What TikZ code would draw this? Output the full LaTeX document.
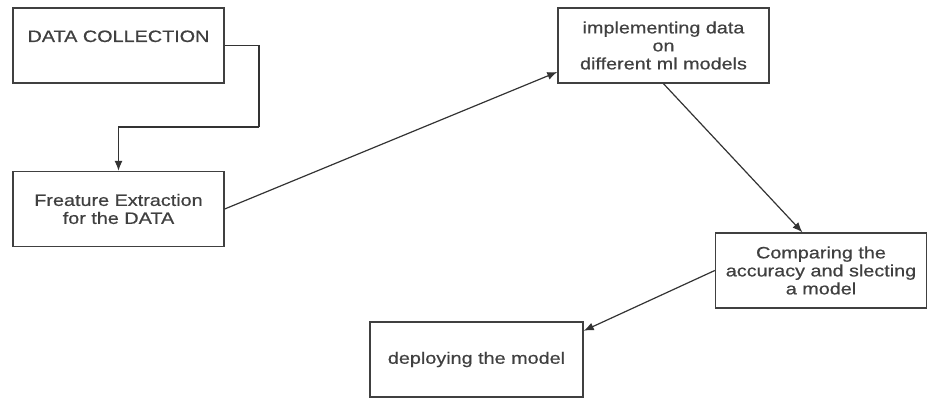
\documentclass[tikz,border=0pt]{standalone}
\usepackage{fontspec}
\setmainfont[FakeStretch=1.2,FakeBold=0.6]{Liberation Sans}
\usetikzlibrary{arrows.meta}

\begin{document}
\begin{tikzpicture}[x=1pt, y=-1pt,
    stagebox/.style={draw=black!75, line width=1.4pt, rectangle, inner sep=0pt,
        minimum width=211pt, minimum height=75pt, align=center,
        font=\fontsize{16.5}{18}\selectfont, text=black!75},
    flow/.style={draw=black!80, line width=1.2pt, -{Latex[length=10pt,width=8pt]}}]
    % Frame of the picture
    \useasboundingbox (0,0) rectangle (927,398);

    % Stages
    \node[stagebox, text height=34pt, text depth=41pt] (collect) at (118.5,45.5) {DATA COLLECTION};
    \node[stagebox] (feature) at (118.5,209) {Freature Extraction\\for the DATA};
    \node[stagebox] (implement) at (663.5,45.5) {implementing data\\on\\different ml models};
    \node[stagebox] (compare) at (821,270.5) {Comparing the\\accuracy and slecting\\a model};
    \node[stagebox, minimum width=213pt] (deploy) at (476.5,359.5) {deploying the model};

    % Elbow of the first connector
    \coordinate (bend) at (259,127);

    % Connectors
    \draw[flow, -] (collect.east) -| (bend);
    \draw[flow] (bend) -| (feature.north);
    \draw[flow] (feature.east) -- (implement.194);
    \draw[flow] (implement.south) -- (compare.116);
    \draw[flow] (compare.west) -- (deploy.15);
\end{tikzpicture}
\end{document}
